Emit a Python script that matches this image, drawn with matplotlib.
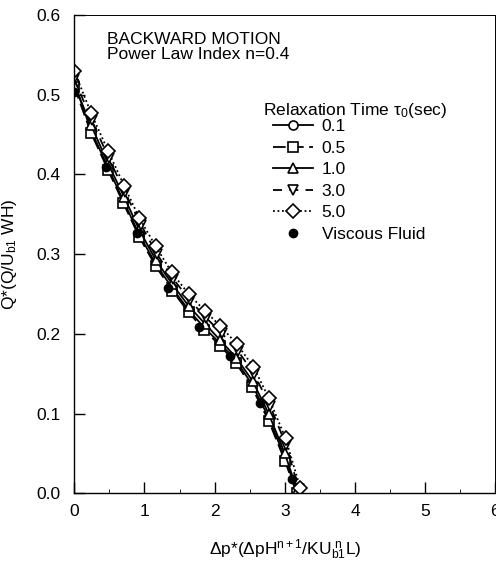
import matplotlib
matplotlib.use("Agg")
import matplotlib.pyplot as plt
from matplotlib.ticker import MultipleLocator

plt.rcParams['font.family'] = ['Liberation Sans', 'DejaVu Sans']
plt.rcParams['mathtext.fontset'] = 'custom'
plt.rcParams['mathtext.rm'] = 'Liberation Sans'
plt.rcParams['mathtext.it'] = 'Liberation Sans'
plt.rcParams['mathtext.bf'] = 'Liberation Sans:bold'

# ---- data ----
x_tau01 = [0, 0.24, 0.48, 0.70, 0.93, 1.16, 1.40, 1.63, 1.85, 2.08, 2.31, 2.53, 2.77, 3.00, 3.17]
y_tau01 = [0.516, 0.455, 0.409, 0.367, 0.324, 0.288, 0.257, 0.230, 0.208, 0.188, 0.166, 0.137, 0.095, 0.045, 0.002]

x_tau05 = [0, 0.24, 0.48, 0.70, 0.93, 1.16, 1.40, 1.63, 1.85, 2.08, 2.31, 2.53, 2.77, 3.00, 3.17]
y_tau05 = [0.510, 0.452, 0.406, 0.364, 0.321, 0.285, 0.254, 0.227, 0.205, 0.185, 0.163, 0.133, 0.091, 0.041, 0.000]

x_tau10 = [0, 0.24, 0.48, 0.71, 0.93, 1.16, 1.40, 1.63, 1.86, 2.08, 2.31, 2.54, 2.77, 3.00, 3.18]
y_tau10 = [0.512, 0.462, 0.414, 0.372, 0.330, 0.293, 0.262, 0.235, 0.213, 0.192, 0.170, 0.141, 0.100, 0.050, 0.003]

x_tau30 = [0, 0.25, 0.49, 0.72, 0.95, 1.18, 1.41, 1.65, 1.88, 2.10, 2.33, 2.56, 2.79, 3.02, 3.20]
y_tau30 = [0.520, 0.468, 0.421, 0.378, 0.337, 0.300, 0.269, 0.242, 0.220, 0.201, 0.179, 0.150, 0.110, 0.060, 0.005]

x_tau50 = [0, 0.24, 0.48, 0.71, 0.93, 1.16, 1.39, 1.63, 1.86, 2.08, 2.32, 2.55, 2.77, 3.01, 3.22]
y_tau50 = [0.530, 0.477, 0.430, 0.386, 0.345, 0.310, 0.277, 0.250, 0.229, 0.210, 0.187, 0.159, 0.120, 0.069, 0.007]

x_visc = [0, 0.45, 0.90, 1.33, 1.78, 2.22, 2.65, 3.10]
y_visc = [0.503, 0.409, 0.327, 0.258, 0.209, 0.172, 0.113, 0.018]

labels = ['0.1', '0.5', '1.0', '3.0', '5.0', 'Viscous Fluid']

W, H = 496, 564
FS = 12.5
fig = plt.figure(figsize=(W/100, H/100), dpi=100)
ax = fig.add_axes([74.2/W, 1-493.3/H, (495.4-74.2)/W, (493.3-15)/H])

mk = dict(markerfacecolor='white', markeredgecolor='black', markeredgewidth=1.2, color='black')
ax.plot(x_tau01, y_tau01, '-', marker='o', ms=6.5, lw=1.3, label=labels[0], **mk)
ax.plot(x_tau05, y_tau05, linestyle=(0, (7, 3)), marker='s', ms=6.5, lw=1.3, label=labels[1], **mk)
ax.plot(x_tau10, y_tau10, '-', marker='^', ms=6.5, lw=1.3, label=labels[2], **mk)
ax.plot(x_tau30, y_tau30, linestyle=(0, (5, 4)), marker='v', ms=6.5, lw=1.3, label=labels[3], **mk)
ax.plot(x_tau50, y_tau50, linestyle=(0, (1, 1.5)), marker='D', ms=7, lw=1.3, label=labels[4], **mk)
ax.plot(x_visc, y_visc, linestyle='none', marker='o', ms=6, color='black', label=labels[5])

ax.set_xlim(0, 6)
ax.set_ylim(0, 0.6)
ax.xaxis.set_major_locator(MultipleLocator(1))
ax.xaxis.set_minor_locator(MultipleLocator(0.5))
ax.yaxis.set_major_locator(MultipleLocator(0.1))
ax.set_yticklabels([f'{v:.1f}' for v in ax.get_yticks()])
ax.tick_params(axis='both', which='major', direction='in', length=8, width=1, labelsize=FS)
ax.tick_params(axis='y', which='major', pad=10)
ax.tick_params(axis='x', which='major', pad=8)
ax.tick_params(axis='x', which='minor', direction='in', length=3)
for s in ax.spines.values():
    s.set_linewidth(1.0)
ax.spines['top'].set_linewidth(0.7)
ax.spines['right'].set_linewidth(0.7)

ax.set_xlabel('Δp*(ΔpH$^{n+1}$/KU$_{b1}^{\\ n}$L)', fontsize=FS, labelpad=13)
ax.set_ylabel('Q*(Q/U$_{b1}$ WH)', fontsize=FS, labelpad=12)

ax.text(107/W, 1-40/H, 'BACKWARD MOTION', transform=fig.transFigure, fontsize=FS, va='center', ha='left')
ax.text(107/W, 1-55/H, 'Power Law Index n=0.4', transform=fig.transFigure, fontsize=FS, va='center', ha='left')
ax.text(263/W, 1-110/H, 'Relaxation Time τ$_0$(sec)', transform=fig.transFigure, fontsize=FS, va='center', ha='left')

leg = ax.legend(loc='upper left', bbox_to_anchor=(273/W, 1-119/H), bbox_transform=fig.transFigure,
                frameon=False, fontsize=FS, handlelength=2.3, handletextpad=0.5,
                labelspacing=0.37, borderpad=0, borderaxespad=0, numpoints=1)

fig.savefig('out.png', dpi=100)
